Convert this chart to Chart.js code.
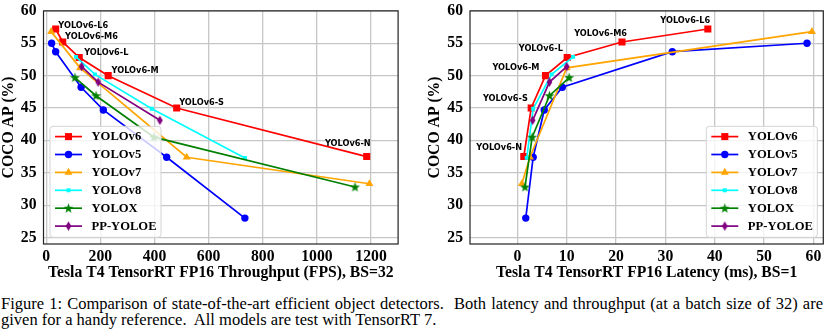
<!DOCTYPE html>
<html>
<head>
<meta charset="utf-8">
<script src="https://cdn.jsdelivr.net/npm/chart.js@4.4.0/dist/chart.umd.min.js"></script>
<style>
  html, body { margin: 0; padding: 0; background: #fff; }
  body { width: 829px; height: 331px; position: relative; overflow: hidden; }
  canvas { position: absolute; top: 0; }
  #throughput { left: 0; }
  #latency { left: 410px; }
  .caption {
    position: absolute; left: 1px; width: 822px;
    font-family: 'Liberation Serif', serif; font-size: 16.5px; line-height: 17px;
    color: #000; white-space: nowrap;
  }
  #cap1 { top: 295px; text-align: justify; text-align-last: justify; }
  #cap2 { top: 311px; }
</style>
</head>
<body>
<canvas id="throughput" width="410" height="285"></canvas>
<canvas id="latency" width="419" height="285"></canvas>
<div class="caption" id="cap1">Figure 1: Comparison of state-of-the-art efficient object detectors.&nbsp; Both latency and throughput (at a batch size of 32) are</div>
<div class="caption" id="cap2">given for a handy reference.&nbsp; All models are test with TensorRT 7.</div>
<script>
const models = ['YOLOv6', 'YOLOv5', 'YOLOv7', 'YOLOv8', 'YOLOX', 'PP-YOLOE'];
const v6Names = ['YOLOv6-N', 'YOLOv6-S', 'YOLOv6-M', 'YOLOv6-L', 'YOLOv6-M6', 'YOLOv6-L6'];

// COCO AP (%), smallest model first
const apYOLOv6 = [37.5, 45.0, 50.0, 52.8, 55.2, 57.2];
const apYOLOv5 = [28.0, 37.4, 44.7, 48.2, 53.7, 55.0];
const apYOLOv7 = [33.3, 37.4, 51.2, 56.8];
const apYOLOv8 = [37.3, 44.9, 50.2, 52.9];
const apYOLOX = [32.8, 40.5, 46.9, 49.7];
const apPPYOLOE = [43.1, 49.0, 51.4];

// T4 TensorRT FP16 throughput (FPS), batch 32
const fpsYOLOv6 = [1184, 482, 229, 122, 61, 35];
const fpsYOLOv5 = [734, 445, 211, 129, 35, 20];
const fpsYOLOv7 = [1194, 519, 125, 18];
const fpsYOLOv8 = [734, 390, 180, 110];
const fpsYOLOX = [1141, 398, 184, 106];
const fpsPPYOLOE = [420, 192, 131];

// T4 TensorRT FP16 latency (ms), batch 1
const msYOLOv6 = [1.3, 2.8, 5.7, 10.1, 21.2, 38.6];
const msYOLOv5 = [1.7, 3.2, 5.45, 9.1, 31.4, 58.7];
const msYOLOv7 = [0.9, 2.55, 10.0, 59.7];
const msYOLOv8 = [1.9, 3.2, 6.95, 11.3];
const msYOLOX = [1.54, 3.0, 6.5, 10.5];
const msPPYOLOE = [3.1, 6.5, 10.0];

const apTicks = [25, 30, 35, 40, 45, 50, 55, 60];
const fpsTicks = [0, 200, 400, 600, 800, 1000, 1200];
const msTicks = [0, 10, 20, 30, 40, 50, 60];

const colors = ['#ff0000', '#0000ff', '#ffa500', '#00ffff', '#008000', '#800080'];

// filled five-point star, like matplotlib '*'
function starMarker(color) {
    const c = document.createElement('canvas');
    c.width = 11; c.height = 11;
    const g = c.getContext('2d');
    g.fillStyle = color;
    g.beginPath();
    for (let k = 0; k < 10; k++) {
        const r = k % 2 === 0 ? 5.2 : 2.1;
        const a = -Math.PI / 2 + k * Math.PI / 5;
        const px = 5.5 + r * Math.cos(a), py = 5.8 + r * Math.sin(a);
        if (k === 0) g.moveTo(px, py); else g.lineTo(px, py);
    }
    g.closePath();
    g.fill();
    return c;
}

// thin diamond, like matplotlib 'd'
function thinDiamondMarker(color) {
    const c = document.createElement('canvas');
    c.width = 7; c.height = 11;
    const g = c.getContext('2d');
    g.fillStyle = color;
    g.beginPath();
    g.moveTo(3.5, 0.8);
    g.lineTo(6.3, 5.5);
    g.lineTo(3.5, 10.2);
    g.lineTo(0.7, 5.5);
    g.closePath();
    g.fill();
    return c;
}

const markerStyles = ['rect', 'circle', 'triangle', 'rect', starMarker(colors[4]), thinDiamondMarker(colors[5])];
const markerRadii = [5, 3.7, 4.6, 2.8, 5, 5];

const axisFont = { family: 'Liberation Serif', size: 15.7, weight: 'bold' };
const labelFont = 'bold 8.2px "DejaVu Sans"';

function toPoints(xs, ys) {
    return xs.map((x, i) => ({ x: x, y: ys[i] }));
}

function buildDatasets(xSeries) {
    const apSeries = [apYOLOv6, apYOLOv5, apYOLOv7, apYOLOv8, apYOLOX, apPPYOLOE];
    return models.map((name, i) => ({
        label: name,
        data: toPoints(xSeries[i], apSeries[i]),
        borderColor: colors[i],
        backgroundColor: colors[i],
        borderWidth: 1.7,
        pointStyle: markerStyles[i],
        pointRadius: markerRadii[i],
        pointHoverRadius: markerRadii[i],
        pointBorderWidth: 0,
        showLine: true,
        tension: 0,
        order: models.length - 1 - i
    }));
}

// grid frame, YOLOv6 size labels and the legend box
const figureDecor = {
    id: 'figureDecor',
    afterDraw(chart, args, opts) {
        const ctx = chart.ctx;
        const a = chart.chartArea;

        ctx.save();
        ctx.strokeStyle = '#222';
        ctx.lineWidth = 1.2;
        ctx.strokeRect(a.left, a.top, a.right - a.left, a.bottom - a.top);

        // size names next to the YOLOv6 points
        ctx.font = labelFont;
        ctx.fillStyle = '#000';
        ctx.textBaseline = 'middle';
        const meta = chart.getDatasetMeta(0);
        meta.data.forEach((pt, i) => {
            const off = opts.labelOffsets[i];
            ctx.textAlign = off[2];
            ctx.fillText(v6Names[i], pt.x + off[0], pt.y + off[1]);
        });

        // legend
        const w = 111, h = 111;
        const x = opts.legendSide === 'left' ? a.left + 6.5 : a.right - 6 - w;
        const y = a.bottom - 6.7 - h;
        ctx.fillStyle = 'rgba(255,255,255,0.8)';
        ctx.strokeStyle = '#d4d4d4';
        ctx.lineWidth = 1;
        ctx.beginPath();
        ctx.roundRect(x, y, w, h, 3);
        ctx.fill();
        ctx.stroke();

        chart.data.datasets.forEach((ds, i) => {
            const cy = y + 10.3 + i * 17.9;
            ctx.strokeStyle = ds.borderColor;
            ctx.lineWidth = ds.borderWidth;
            ctx.beginPath();
            ctx.moveTo(x + 5, cy);
            ctx.lineTo(x + 32, cy);
            ctx.stroke();
            ctx.fillStyle = ds.backgroundColor;
            Chart.helpers.drawPoint(ctx, { pointStyle: ds.pointStyle, radius: ds.pointRadius, borderWidth: 0, rotation: 0 }, x + 18.5, cy);
            ctx.fillStyle = '#000';
            ctx.textAlign = 'left';
            ctx.font = 'bold 12.6px "Liberation Serif"';
            ctx.fillText(ds.label, x + 41.5, cy + 0.5);
        });
        ctx.restore();
    }
};

function makeChart(canvasId, xSeries, xTicks, xRange, xTitle, yWidth, yTitlePad, pad, decor) {
    return new Chart(document.getElementById(canvasId), {
        type: 'line',
        data: { datasets: buildDatasets(xSeries) },
        plugins: [figureDecor],
        options: {
            responsive: false,
            animation: false,
            layout: { padding: pad },
            plugins: {
                legend: { display: false },
                tooltip: { enabled: false },
                figureDecor: decor
            },
            scales: {
                x: {
                    type: 'linear',
                    min: xRange[0],
                    max: xRange[1],
                    afterBuildTicks: s => { s.ticks = xTicks.map(v => ({ value: v })); },
                    afterFit: s => { s.height = 41; s.paddingLeft = 0; s.paddingRight = 0; },
                    grid: { color: '#c6c6c6', lineWidth: 1.3, drawTicks: false },
                    border: { display: false },
                    ticks: { color: '#000', font: axisFont, padding: 3.6, maxRotation: 0, callback: v => String(v) },
                    title: { display: true, text: xTitle, color: '#000', font: axisFont, padding: { top: 0, bottom: 2.6 } }
                },
                y: {
                    min: 24,
                    max: 60,
                    afterBuildTicks: s => { s.ticks = apTicks.map(v => ({ value: v })); },
                    afterFit: s => { s.width = yWidth; s.paddingTop = 0; s.paddingBottom = 0; },
                    grid: { color: '#c6c6c6', lineWidth: 1.3, drawTicks: false },
                    border: { display: false },
                    ticks: { color: '#000', font: axisFont, padding: 7 },
                    title: { display: true, text: 'COCO AP (%)', color: '#000', font: axisFont, padding: { top: yTitlePad, bottom: 0 } }
                }
            }
        }
    });
}

makeChart('throughput',
    [fpsYOLOv6, fpsYOLOv5, fpsYOLOv7, fpsYOLOv8, fpsYOLOX, fpsPPYOLOE],
    fpsTicks, [-10, 1300],
    'Tesla T4 TensorRT FP16 Throughput (FPS), BS=32',
    43.5, 0, { left: 0, right: 11.9, top: 10.9, bottom: 0 },
    {
        legendSide: 'left',
        labelOffsets: [[4, -12.4, 'right'], [2.5, -5, 'left'], [3.4, -4.5, 'left'], [5, -4.6, 'left'], [2.4, -5, 'left'], [2.6, -3.5, 'left']]
    });

makeChart('latency',
    [msYOLOv6, msYOLOv5, msYOLOv7, msYOLOv8, msYOLOX, msPPYOLOE],
    msTicks, [-9.6, 62],
    'Tesla T4 TensorRT FP16 Latency (ms), BS=1',
    60, 16, { left: 0, right: 5.7, top: 10.9, bottom: 0 },
    {
        legendSide: 'right',
        labelOffsets: [[-1.7, -8.4, 'right'], [-3.4, -9, 'right'], [-6, -8, 'right'], [-4.3, -8.4, 'right'], [5, -8.4, 'right'], [2.3, -8.3, 'right']]
    });
</script>
</body>
</html>
